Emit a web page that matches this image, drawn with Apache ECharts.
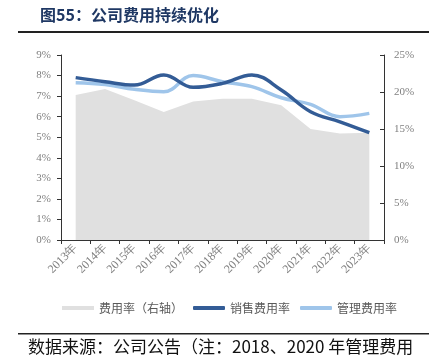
<!DOCTYPE html>
<html><head><meta charset="utf-8">
<script src="https://cdn.jsdelivr.net/npm/echarts@6/dist/echarts.min.js"></script>
<style>html,body{margin:0;padding:0;background:#fff}#c{width:429px;height:362px}</style>
</head><body><div id="c"></div>
<script>
const categories = ['2013年','2014年','2015年','2016年','2017年','2018年','2019年','2020年','2021年','2022年','2023年'];
const expenseRate = [19.6, 20.4, 18.9, 17.3, 18.7, 19.1, 19.1, 18.2, 15.0, 14.4, 14.5];
const salesRate = [7.9, 7.7, 7.54, 8.03, 7.43, 7.62, 8.03, 7.3, 6.24, 5.75, 5.22];
const adminRate = [7.65, 7.56, 7.33, 7.21, 8.0, 7.7, 7.46, 6.92, 6.6, 6.0, 6.16];
const leftTicks = {min: 0, max: 9, interval: 1};
const rightTicks = {min: 0, max: 25, interval: 5};

const serif = '"Liberation Serif","DejaVu Serif",serif';
const cjk = '"Noto Sans CJK SC","Noto Sans",sans-serif';
const chart = echarts.init(document.getElementById('c'));
chart.setOption({
  animation: false,
  grid: {left: 61, right: 45, top: 55, bottom: 122},
  graphic: [
    {type: 'text', left: 40, top: 7, style: {text: '图55：公司费用持续优化', font: 'bold 16px ' + cjk, fill: '#1f3864'}},
    {type: 'rect', shape: {x: 18, y: 31, width: 411, height: 2}, style: {fill: '#222'}},
    {type: 'rect', shape: {x: 18, y: 333, width: 411, height: 1.5}, style: {fill: '#222'}},
    {type: 'text', left: 28, top: 338, style: {text: '数据来源：公司公告（注：2018、2020 年管理费用', font: '17px ' + cjk, fill: '#111'}}
  ],
  legend: {
    bottom: 43, left: 57, itemWidth: 32, itemHeight: 4, itemGap: 10,
    textStyle: {fontSize: 12, color: '#595959', fontFamily: cjk},
    data: [
      {name: '费用率（右轴）', icon: 'rect'},
      {name: '销售费用率', icon: 'roundRect'},
      {name: '管理费用率', icon: 'roundRect'}
    ]
  },
  xAxis: {
    type: 'category', data: categories, boundaryGap: true,
    axisLine: {lineStyle: {color: '#333', width: 1}},
    axisTick: {show: true, length: 4, lineStyle: {color: '#333'}},
    axisLabel: {rotate: 45, color: '#808080', fontFamily: serif, fontSize: 12, margin: 6, interval: 0}
  },
  yAxis: [
    {type: 'value', position: 'left', min: leftTicks.min, max: leftTicks.max, interval: leftTicks.interval,
     splitLine: {show: false},
     axisLine: {show: true, lineStyle: {color: '#333', width: 1}},
     axisTick: {show: true, length: 4, lineStyle: {color: '#333'}},
     axisLabel: {formatter: '{value}%', color: '#808080', fontFamily: serif, fontSize: 11, margin: 10}},
    {type: 'value', position: 'right', min: rightTicks.min, max: rightTicks.max, interval: rightTicks.interval,
     splitLine: {show: false},
     axisLine: {show: true, lineStyle: {color: '#333', width: 1}},
     axisTick: {show: true, inside: true, length: 4, lineStyle: {color: '#333'}},
     axisLabel: {formatter: '{value}%', color: '#808080', fontFamily: serif, fontSize: 11, margin: 10}}
  ],
  series: [
    {name: '费用率（右轴）', type: 'line', yAxisIndex: 1, data: expenseRate, symbol: 'none',
     lineStyle: {width: 0, color: '#e0e0e0'}, itemStyle: {color: '#e0e0e0'},
     areaStyle: {color: '#e0e0e0', opacity: 1}, z: 1},
    {name: '销售费用率', type: 'line', yAxisIndex: 0, data: salesRate, symbol: 'none', smooth: 0.4,
     lineStyle: {width: 3.5, color: '#335c96'}, itemStyle: {color: '#335c96'}, z: 3},
    {name: '管理费用率', type: 'line', yAxisIndex: 0, data: adminRate, symbol: 'none', smooth: 0.4,
     lineStyle: {width: 3.5, color: '#9fc5ea'}, itemStyle: {color: '#9fc5ea'}, z: 2}
  ]
});
</script></body></html>
